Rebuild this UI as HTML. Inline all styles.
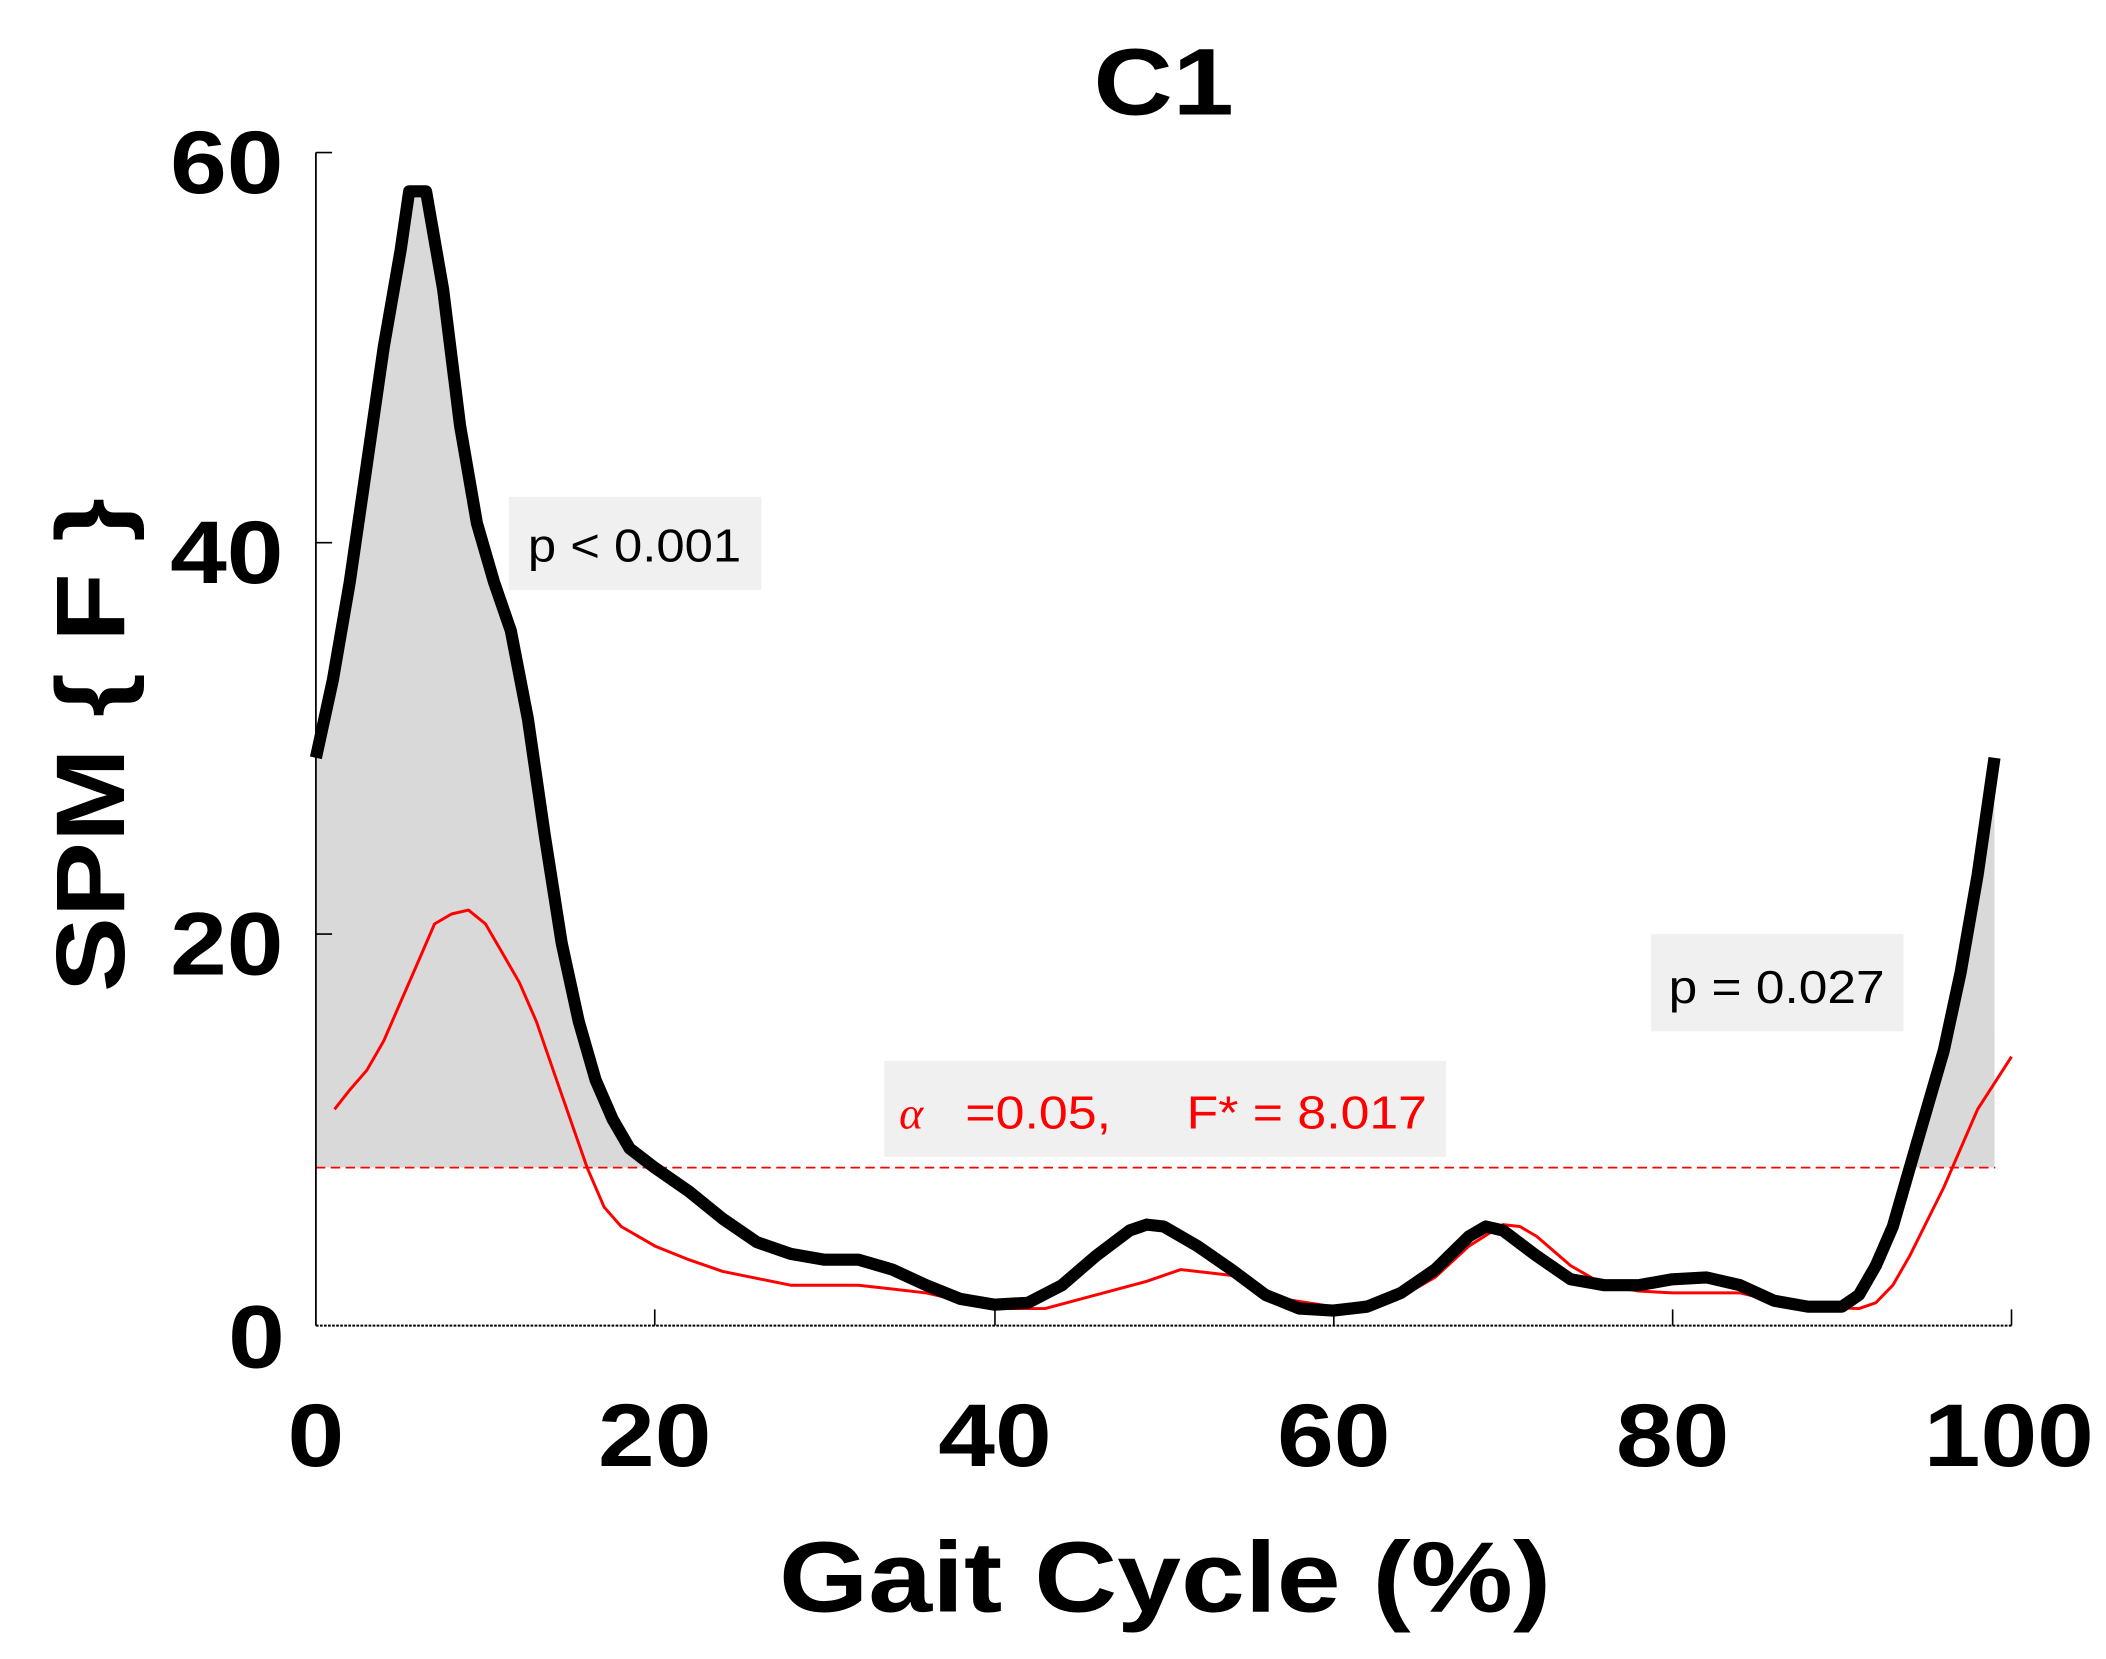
<!DOCTYPE html>
<html><head><meta charset="utf-8"><style>html,body{margin:0;padding:0;background:#fff}svg{display:block}</style></head>
<body>
<svg width="2106" height="1659" viewBox="0 0 1560 1229" preserveAspectRatio="none" xmlns="http://www.w3.org/2000/svg" font-family="Liberation Sans, sans-serif">
<defs>
<clipPath id="above"><rect x="234" y="0" width="1300" height="865"/></clipPath>
</defs>
<g id="plot"></g>
<!-- axes -->
<line x1="234" y1="113" x2="234" y2="982" stroke="#000" stroke-width="1.3"/>
<line x1="234" y1="982" x2="1490" y2="982" stroke="#000" stroke-width="1.5" stroke-dasharray="2,1"/>
<g stroke="#000" stroke-width="1.2">
<line x1="234" y1="113" x2="246" y2="113"/><line x1="234" y1="402" x2="246" y2="402"/><line x1="234" y1="692" x2="246" y2="692"/>
<line x1="485" y1="982" x2="485" y2="970"/><line x1="737" y1="982" x2="737" y2="970"/><line x1="988" y1="982" x2="988" y2="970"/><line x1="1239" y1="982" x2="1239" y2="970"/><line x1="1490" y1="982" x2="1490" y2="970"/>
</g>
<g font-weight="bold" font-size="66" text-anchor="middle">
<text x="168" y="143" textLength="84" lengthAdjust="spacingAndGlyphs">60</text>
<text x="168" y="432" textLength="84" lengthAdjust="spacingAndGlyphs">40</text>
<text x="168" y="722" textLength="84" lengthAdjust="spacingAndGlyphs">20</text>
<text x="190" y="1013" textLength="42" lengthAdjust="spacingAndGlyphs">0</text>
<text x="234" y="1086" textLength="42" lengthAdjust="spacingAndGlyphs">0</text>
<text x="485" y="1086" textLength="84" lengthAdjust="spacingAndGlyphs">20</text>
<text x="737" y="1086" textLength="84" lengthAdjust="spacingAndGlyphs">40</text>
<text x="988" y="1086" textLength="84" lengthAdjust="spacingAndGlyphs">60</text>
<text x="1239" y="1086" textLength="84" lengthAdjust="spacingAndGlyphs">80</text>
<text x="1488" y="1086" textLength="126" lengthAdjust="spacingAndGlyphs">100</text>
<text x="863" y="1194" font-size="74" textLength="572" lengthAdjust="spacingAndGlyphs">Gait Cycle (%)</text>
<text x="862" y="85" font-size="70" textLength="104" lengthAdjust="spacingAndGlyphs">C1</text>
<text transform="translate(92,552) rotate(-90)" font-size="72" textLength="366" lengthAdjust="spacingAndGlyphs">SPM { F }</text>
</g>
<rect x="377" y="368" width="187" height="69" fill="#f0f0f0"/>
<text x="470" y="416" font-size="34" text-anchor="middle" textLength="158" lengthAdjust="spacingAndGlyphs">p &lt; 0.001</text>
<rect x="1223" y="692" width="187" height="72" fill="#f0f0f0"/>
<text x="1316" y="743" font-size="34" text-anchor="middle" textLength="160" lengthAdjust="spacingAndGlyphs">p = 0.027</text>
<rect x="655" y="786" width="416" height="71" fill="#f0f0f0"/>
<text x="666" y="836" font-size="34" fill="#f00" font-family="Liberation Serif, serif" font-style="italic">α</text>
<text x="715" y="836" font-size="34" fill="#f00" textLength="108" lengthAdjust="spacingAndGlyphs">=0.05,</text>
<text x="879" y="836" font-size="34" fill="#f00" textLength="178" lengthAdjust="spacingAndGlyphs">F* = 8.017</text>
<script>
const X=v=>234+v*12.56, Y=v=>981-v*14.47;
const B=[[0,29],[1,33],[2,38],[3,44],[4,50],[5,55],[5.5,58],[6.5,58],[7.5,53],[8.5,46],[9.5,41],[10.5,38],[11.5,35.5],[12.5,31],[13.5,25],[14.5,19.5],[15.5,15.5],[16.5,12.5],[17.5,10.5],[18.5,9],[20,8],[22,6.8],[24,5.4],[26,4.2],[28,3.6],[30,3.3],[32,3.3],[34,2.8],[36,2],[38,1.3],[40,1],[42,1.1],[44,2],[46,3.5],[48,4.8],[49,5.1],[50,5],[52,4],[54,2.8],[56,1.5],[58,0.8],[60,0.7],[62,0.9],[64,1.6],[66,2.8],[68,4.5],[69,5],[70,4.8],[72,3.5],[74,2.3],[76,2],[78,2],[80,2.3],[82,2.4],[84,2],[86,1.2],[88,0.9],[90,0.9],[91,1.5],[92,3],[93,5],[94,8],[95,11],[96,14],[97,18],[98,23],[99,29]];
const R=[[1.1,11],[2,12],[3,13],[4,14.5],[5,16.5],[6,18.5],[7,20.5],[8,21],[9,21.2],[10,20.5],[11,19],[12,17.5],[13,15.5],[14,13],[15,10.5],[16,8],[17,6],[18,5],[20,4],[22,3.3],[24,2.7],[28,2],[32,2],[36,1.6],[40,0.8],[43,0.8],[46,1.5],[49,2.2],[51,2.8],[54,2.5],[57,1.3],[60,0.9],[64,1.4],[66,2.4],[68,4],[70,5.1],[71,5],[72,4.5],[74,3],[76,2],[78,1.7],[80,1.6],[84,1.6],[86,1.2],[88,0.9],[91,0.8],[92,1.1],[93,2],[94,3.5],[96,7],[98,11],[100,13.7]];
const pts=a=>a.map(p=>X(p[0]).toFixed(1)+','+Y(p[1]).toFixed(1)).join(' ');
const g=document.getElementById('plot'),NS='http://www.w3.org/2000/svg';
function el(t,a){const e=document.createElementNS(NS,t);for(const k in a)e.setAttribute(k,a[k]);g.appendChild(e);return e;}
el('polygon',{points:pts(B)+' '+X(99)+','+Y(8.017)+' '+X(0)+','+Y(8.017),fill:'#d9d9d9','clip-path':'url(#above)'});
el('line',{x1:234,y1:865,x2:1478,y2:865,stroke:'#f00','stroke-width':1.3,'stroke-dasharray':'7,4'});
el('polyline',{points:pts(R),fill:'none',stroke:'#f00','stroke-width':2.2,'stroke-linejoin':'round'});
el('polyline',{points:pts(B),fill:'none',stroke:'#000','stroke-width':9,'stroke-linejoin':'round'});
</script>
</svg>
</body></html>
